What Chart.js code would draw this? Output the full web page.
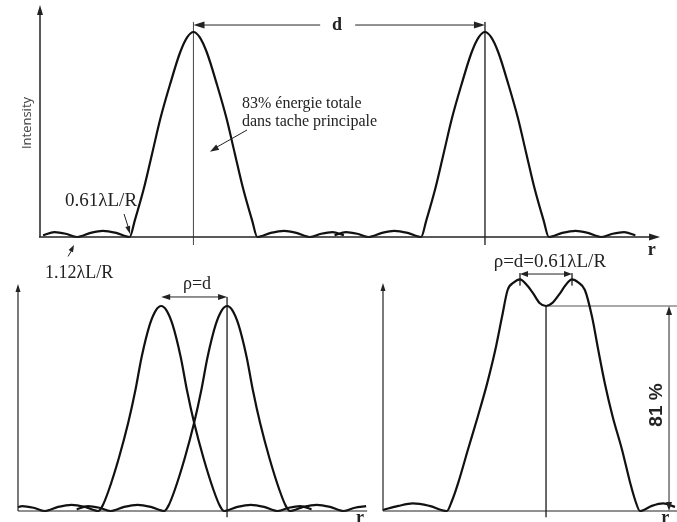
<!DOCTYPE html>
<html><head><meta charset="utf-8">
<script src="https://cdn.jsdelivr.net/npm/chart.js@4"></script>
<style>
html,body{margin:0;padding:0;background:#fff;}
body{width:677px;height:522px;position:relative;overflow:hidden;}
canvas{position:absolute;}
</style></head><body>
<canvas id="cTop" width="677" height="290" style="left:0px;top:0px"></canvas>
<canvas id="cBL" width="370" height="272" style="left:0px;top:250px"></canvas>
<canvas id="cBR" width="307" height="272" style="left:370px;top:250px"></canvas>
<script>
// ---------- DATA (r in λL/R units, intensity normalised to a single peak) ----------
const topPeak1R = [0.03,0.14,0.25,0.36,0.49,0.61,0.74,0.87,0.92,1.01,1.09,1.17,1.26,1.36,1.43,1.49,1.55,1.62,1.72,1.81,1.89,1.97,2.06,2.11,2.24,2.37,2.49,2.62,2.73,2.84,2.95];
const topPeak2R = [2.86,2.97,3.08,3.19,3.32,3.44,3.57,3.70,3.75,3.84,3.92,4.00,4.09,4.19,4.26,4.32,4.38,4.45,4.55,4.64,4.72,4.80,4.89,4.94,5.07,5.20,5.32,5.45,5.56,5.67,5.78];
const topIntensity = [0.008,0.024,0.016,0,0.02,0.03,0.02,0,0.08,0.24,0.41,0.58,0.74,0.90,0.975,1,0.975,0.90,0.74,0.58,0.41,0.24,0.08,0,0.02,0.03,0.02,0,0.016,0.024,0.008];

const blCurveAR = [0,0.04,0.15,0.26,0.39,0.52,0.65,0.78,0.82,0.88,0.98,1.07,1.14,1.20,1.28,1.34,1.39,1.44,1.50,1.58,1.64,1.71,1.80,1.90,1.96,2.00,2.13,2.26,2.39,2.52,2.63,2.74,2.85];
const blCurveAI = [0.018,0.024,0.016,0,0.02,0.03,0.02,0,0.025,0.10,0.26,0.43,0.59,0.75,0.91,0.98,1,0.98,0.91,0.75,0.59,0.43,0.26,0.10,0.025,0,0.02,0.03,0.02,0,0.016,0.024,0.008];
const blCurveBR = [0.57,0.68,0.79,0.90,1.03,1.16,1.29,1.42,1.46,1.52,1.62,1.71,1.78,1.84,1.92,1.98,2.03,2.08,2.14,2.22,2.28,2.35,2.44,2.54,2.60,2.64,2.77,2.90,3.03,3.16,3.27,3.38];
const blCurveBI = [0.008,0.024,0.016,0,0.02,0.03,0.02,0,0.025,0.10,0.26,0.43,0.59,0.75,0.91,0.98,1,0.98,0.91,0.75,0.59,0.43,0.26,0.10,0.025,0,0.02,0.03,0.02,0,0.016,0.024];

const brCurveR = [0,0.15,0.29,0.45,0.62,0.67,0.73,0.825,0.92,1.01,1.09,1.155,1.21,1.27,1.33,1.40,1.456,1.52,1.583,1.645,1.72,1.77,1.835,1.895,1.96,2.03,2.09,2.155,2.23,2.32,2.40,2.45,2.495,2.61,2.72,2.835];
const brCurveI = [0.005,0.025,0.037,0.025,0,0.05,0.137,0.30,0.46,0.62,0.785,0.946,1.078,1.115,1.13,1.10,1.063,1.015,1.0,1.015,1.063,1.10,1.13,1.115,1.078,0.946,0.785,0.62,0.46,0.30,0.137,0.05,0,0.025,0.037,0.02];

const peakCentersTop = [1.49, 4.32];
const peakCentersBL = [1.39, 2.03];
const peakCentersBR = [1.33, 1.835];
const dipBR = {r: 1.583, i: 1.0};

// ---------- helpers ----------
const PXR = 103, PXI = 205;
function pts(xs, ys){ return xs.map((x,k)=>({x:x, y:ys[k]})); }
function curve(xs, ys){
  return {data: pts(xs, ys), borderColor:'#111', borderWidth:2.2, pointRadius:0,
          cubicInterpolationMode:'monotone', fill:false};
}
function refLine(p){
  return {data:p, borderColor:'#555', borderWidth:1, pointRadius:0, tension:0, fill:false};
}
function head(ctx, tx, ty, fx, fy, len, w){
  const a = Math.atan2(ty-fy, tx-fx);
  ctx.save(); ctx.translate(tx, ty); ctx.rotate(a);
  ctx.beginPath(); ctx.moveTo(0,0); ctx.lineTo(-len,-w); ctx.lineTo(-len,w); ctx.closePath(); ctx.fill();
  ctx.restore();
}
function seg(ctx, x1,y1,x2,y2){ ctx.beginPath(); ctx.moveTo(x1,y1); ctx.lineTo(x2,y2); ctx.stroke(); }

function makeChart(id, datasets, originPx, baselinePx, drawFn){
  const cv = document.getElementById(id);
  const W = cv.width, H = cv.height;
  return new Chart(cv, {
    type:'line',
    data:{datasets: datasets},
    options:{
      responsive:false, animation:false, events:[],
      layout:{padding:0},
      plugins:{legend:{display:false}, tooltip:{enabled:false}, title:{display:false}},
      scales:{
        x:{type:'linear', display:false, min:-originPx/PXR, max:(W-originPx)/PXR},
        y:{type:'linear', display:false, min:-(H-baselinePx)/PXI, max:baselinePx/PXI}
      }
    },
    plugins:[{id:'annot', afterDatasetsDraw(chart){
      const ctx = chart.ctx, xs = chart.scales.x, ys = chart.scales.y;
      const X = v=>xs.getPixelForValue(v), Y = v=>ys.getPixelForValue(v);
      ctx.save(); drawFn(ctx, X, Y); ctx.restore();
    }}]
  });
}
const SERIF = '"Liberation Serif", "Times New Roman", serif';

// ---------- TOP CHART ----------
makeChart('cTop', [
  curve(topPeak1R, topIntensity),
  curve(topPeak2R, topIntensity),
  refLine([{x:peakCentersTop[0], y:1.049},{x:peakCentersTop[0], y:-0.039}]),
  refLine([{x:peakCentersTop[1], y:1.049},{x:peakCentersTop[1], y:-0.039}])
], 40, 237, (ctx, X, Y)=>{
  ctx.strokeStyle='#222'; ctx.fillStyle='#222';
  ctx.lineWidth=1.5;
  seg(ctx, X(0), Y(0), X(0), Y(1.10)); head(ctx, X(0), Y(1.132), X(0), Y(0), 10, 3);
  seg(ctx, X(-0.01), Y(0), X(5.95), Y(0)); head(ctx, X(6.02), Y(0), X(0), Y(0), 11, 3.5);
  ctx.lineWidth=1;
  seg(ctx, X(2.72), Y(1.034), X(peakCentersTop[0]+0.08), Y(1.034));
  head(ctx, X(peakCentersTop[0]), Y(1.034), X(2.72), Y(1.034), 11, 3.5);
  seg(ctx, X(3.06), Y(1.034), X(peakCentersTop[1]-0.08), Y(1.034));
  head(ctx, X(peakCentersTop[1]), Y(1.034), X(3.06), Y(1.034), 11, 3.5);
  seg(ctx, X(2.01), Y(0.522), X(1.68), Y(0.428)); head(ctx, X(1.65), Y(0.416), X(2.01), Y(0.522), 9, 3);
  seg(ctx, X(0.816), Y(0.112), X(0.865), Y(0.035)); head(ctx, X(0.874), Y(0.0146), X(0.816), Y(0.112), 8, 2.5);
  seg(ctx, X(0.272), Y(-0.095), X(0.32), Y(-0.055)); head(ctx, X(0.33), Y(-0.039), X(0.272), Y(-0.095), 7, 2.5);
  ctx.fillStyle='#222';
  ctx.font='19px '+SERIF; ctx.textAlign='left'; ctx.textBaseline='alphabetic';
  ctx.fillText('0.61λL/R', X(0.243), Y(0.151));
  ctx.font='18px '+SERIF;
  ctx.fillText('1.12λL/R', X(0.049), Y(-0.2));
  ctx.font='16px '+SERIF;
  ctx.fillText('83% énergie totale', X(1.961), Y(0.629));
  ctx.fillText('dans tache principale', X(1.961), Y(0.541));
  ctx.font='bold 18px '+SERIF; ctx.textAlign='center'; ctx.textBaseline='middle';
  ctx.fillText('d', X(2.883), Y(1.034));
  ctx.fillText('r', X(5.94), Y(-0.063));
  ctx.save(); ctx.translate(X(-0.126), Y(0.556)); ctx.rotate(-Math.PI/2);
  ctx.fillStyle='#444'; ctx.font='13px "Open Sans", "DejaVu Sans", sans-serif';
  ctx.fillText('Intensity', 0, 0); ctx.restore();
});

// ---------- BOTTOM LEFT ----------
makeChart('cBL', [
  curve(blCurveAR, blCurveAI),
  curve(blCurveBR, blCurveBI),
  refLine([{x:peakCentersBL[1], y:1.044},{x:peakCentersBL[1], y:-0.03}])
], 18, 261, (ctx, X, Y)=>{
  ctx.strokeStyle='#222'; ctx.fillStyle='#222';
  ctx.lineWidth=1.2;
  seg(ctx, X(0), Y(0), X(0), Y(1.08)); head(ctx, X(0), Y(1.107), X(0), Y(0), 8, 2.5);
  seg(ctx, X(0), Y(0), X(3.39), Y(0));
  ctx.lineWidth=1;
  const yA = 1.044;
  seg(ctx, X(peakCentersBL[0]+0.06), Y(yA), X(peakCentersBL[1]-0.06), Y(yA));
  head(ctx, X(peakCentersBL[0]), Y(yA), X(peakCentersBL[1]), Y(yA), 9, 3);
  head(ctx, X(peakCentersBL[1]), Y(yA), X(peakCentersBL[0]), Y(yA), 9, 3);
  ctx.font='18px '+SERIF; ctx.textAlign='center'; ctx.textBaseline='alphabetic';
  ctx.fillText('ρ=d', X(1.738), Y(1.083));
  ctx.font='bold 18px '+SERIF;
  ctx.fillText('r', X(3.32), Y(-0.059));
});

// ---------- BOTTOM RIGHT ----------
makeChart('cBR', [
  curve(brCurveR, brCurveI),
  refLine([{x:dipBR.r, y:dipBR.i},{x:dipBR.r, y:-0.03}]),
  refLine([{x:dipBR.r, y:dipBR.i},{x:2.86, y:dipBR.i}]),
  refLine([{x:peakCentersBR[0], y:1.16},{x:peakCentersBR[0], y:1.10}]),
  refLine([{x:peakCentersBR[1], y:1.16},{x:peakCentersBR[1], y:1.10}])
], 13, 261, (ctx, X, Y)=>{
  ctx.strokeStyle='#222'; ctx.fillStyle='#222';
  ctx.lineWidth=1.2;
  seg(ctx, X(0), Y(0), X(0), Y(1.08)); head(ctx, X(0), Y(1.112), X(0), Y(0), 8, 2.5);
  seg(ctx, X(0), Y(0), X(2.86), Y(0));
  ctx.lineWidth=1;
  const yA = 1.156;
  seg(ctx, X(peakCentersBR[0]+0.06), Y(yA), X(peakCentersBR[1]-0.06), Y(yA));
  head(ctx, X(peakCentersBR[0]), Y(yA), X(peakCentersBR[1]), Y(yA), 8, 3);
  head(ctx, X(peakCentersBR[1]), Y(yA), X(peakCentersBR[0]), Y(yA), 8, 3);
  const xv = 2.777;
  seg(ctx, X(xv), Y(dipBR.i-0.04), X(xv), Y(0.04));
  head(ctx, X(xv), Y(dipBR.i), X(xv), Y(0), 9, 3);
  head(ctx, X(xv), Y(0), X(xv), Y(dipBR.i), 9, 3);
  ctx.font='19px '+SERIF; ctx.textAlign='center'; ctx.textBaseline='alphabetic';
  ctx.fillText('ρ=d=0.61λL/R', X(1.62), Y(1.19));
  ctx.font='bold 18px '+SERIF;
  ctx.fillText('r', X(2.74), Y(-0.059));
  ctx.save(); ctx.translate(X(2.66), Y(0.517)); ctx.rotate(-Math.PI/2);
  ctx.font='bold 19px "Liberation Sans", Arial, sans-serif'; ctx.textBaseline='middle';
  ctx.fillText('81 %', 0, 0); ctx.restore();
});
</script>
</body></html>
